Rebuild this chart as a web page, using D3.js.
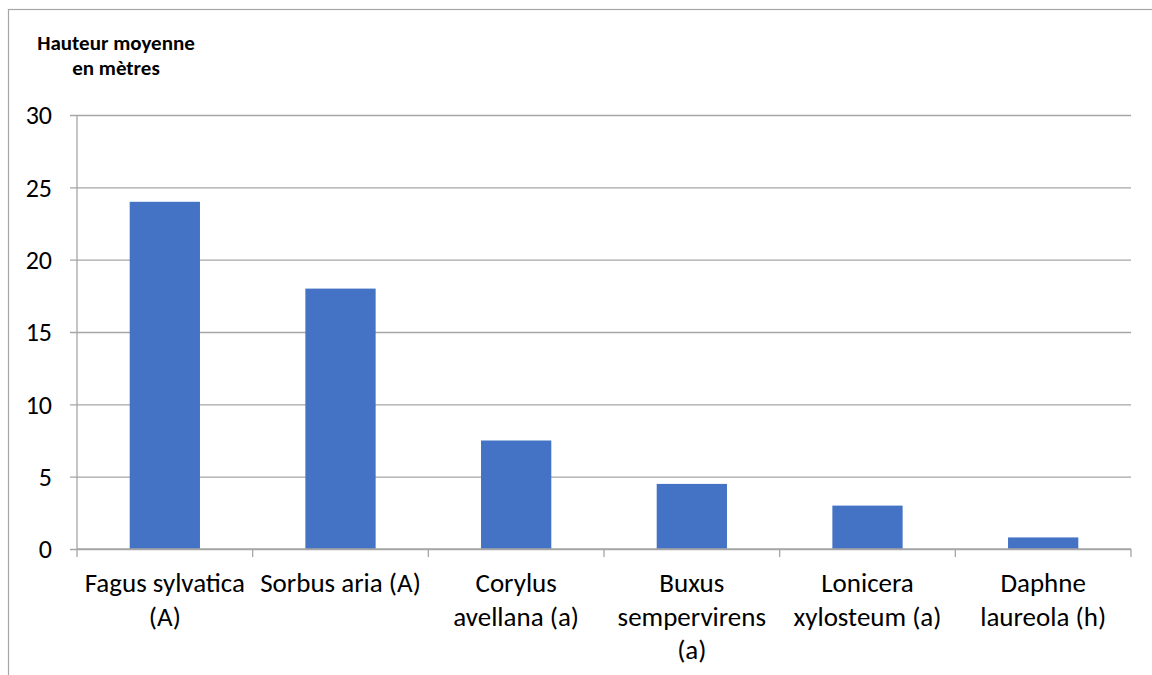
<!DOCTYPE html>
<html>
<head>
<meta charset="utf-8">
<script src="https://cdn.jsdelivr.net/npm/d3@7"></script>
<style>
  html, body { margin: 0; padding: 0; background: #fff; }
  svg { display: block; font-family: Calibri, Carlito, "Open Sans", "Noto Sans", sans-serif; }
</style>
</head>
<body>
<svg id="chart" width="1152" height="675"></svg>
<script>
// Species and their mean height in metres
const species = [
  "Fagus sylvatica (A)",
  "Sorbus aria (A)",
  "Corylus avellana (a)",
  "Buxus sempervirens (a)",
  "Lonicera xylosteum (a)",
  "Daphne laureola (h)"
];
// Wrapped label lines for the category axis
const speciesLines = [
  ["Fagus sylvatica", "(A)"],
  ["Sorbus aria (A)"],
  ["Corylus", "avellana (a)"],
  ["Buxus", "sempervirens", "(a)"],
  ["Lonicera", "xylosteum (a)"],
  ["Daphne", "laureola (h)"]
];
const heights = [24, 18, 7.5, 4.5, 3, 0.8];
const yTicks = [0, 5, 10, 15, 20, 25, 30];
const titleLines = ["Hauteur moyenne", "en mètres"];

const svg = d3.select("#chart");
const W = 1152, H = 675;
const plotLeft = 77, plotRight = 1131, plotTop = 115, plotBottom = 549;
const gridColor = "#a6a6a6";
const fontStack = "Calibri, Carlito, 'Open Sans', 'Noto Sans', sans-serif";

// Outer chart frame
svg.append("rect")
  .attr("x", 8.5).attr("y", 9.5)
  .attr("width", W + 20).attr("height", H + 20)
  .attr("fill", "none").attr("stroke", "#a6a6a6").attr("stroke-width", 1.2);

const x = d3.scaleBand().domain(species).range([plotLeft, plotRight]).paddingInner(0.6).paddingOuter(0.3);
const xOuter = d3.scaleBand().domain(species).range([plotLeft, plotRight]);
const y = d3.scaleLinear().domain([0, 30]).range([plotBottom, plotTop]);

// Horizontal gridlines with small left tick marks
const yAxis = d3.axisLeft(y).tickValues(yTicks).tickSize(-(plotRight - plotLeft));
const gy = svg.append("g").attr("transform", `translate(${plotLeft},0)`).call(yAxis);
gy.select(".domain").remove();
gy.selectAll(".tick line").attr("stroke", gridColor).attr("stroke-width", 1.3)
  .attr("x1", -7);
gy.selectAll(".tick text")
  .attr("font-size", 26).attr("fill", "#000")
  .attr("font-family", fontStack)
  .attr("x", -25).attr("dy", "0.34em");

// Vertical axis line
svg.append("line")
  .attr("x1", plotLeft).attr("x2", plotLeft).attr("y1", plotTop).attr("y2", plotBottom)
  .attr("stroke", gridColor).attr("stroke-width", 1.3);

// Bars
svg.append("g").selectAll("rect").data(species).join("rect")
  .attr("x", d => x(d))
  .attr("width", x.bandwidth())
  .attr("y", (d, i) => y(heights[i]))
  .attr("height", (d, i) => y(0) - y(heights[i]))
  .attr("fill", "#4472c4");

// Category axis with tick marks between categories
const xBounds = species.map(d => xOuter(d)).concat([plotRight]);
svg.append("line")
  .attr("x1", plotLeft).attr("x2", plotRight).attr("y1", plotBottom).attr("y2", plotBottom)
  .attr("stroke", gridColor).attr("stroke-width", 1.3);
svg.append("g").selectAll("line").data(xBounds).join("line")
  .attr("x1", d => d).attr("x2", d => d)
  .attr("y1", plotBottom).attr("y2", plotBottom + 8)
  .attr("stroke", gridColor).attr("stroke-width", 1.3);

// Category labels, wrapped
const labels = svg.append("g").selectAll("text").data(species).join("text")
  .attr("text-anchor", "middle")
  .attr("font-size", 27)
  .attr("fill", "#000");
labels.each(function(d, i) {
  const cx = xOuter(d) + xOuter.bandwidth() / 2;
  d3.select(this).selectAll("tspan").data(speciesLines[i]).join("tspan")
    .attr("x", cx)
    .attr("y", (l, j) => 592 + j * 33.5)
    .text(l => l);
});

// Axis title
svg.append("text")
  .attr("text-anchor", "middle")
  .attr("font-size", 21).attr("font-weight", "bold").attr("fill", "#000")
  .selectAll("tspan").data(titleLines).join("tspan")
  .attr("x", 116).attr("y", (l, j) => 50 + j * 25)
  .text(l => l);
</script>
</body>
</html>
